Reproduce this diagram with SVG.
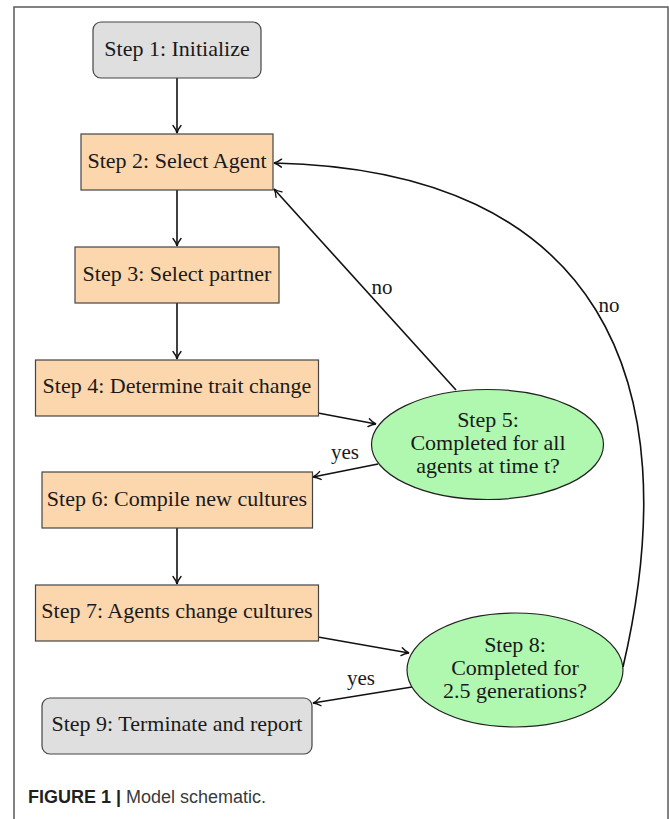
<svg xmlns="http://www.w3.org/2000/svg" width="669" height="819" viewBox="0 0 669 819">
  <style>
    .lbl { font-family: "Liberation Serif", "Times New Roman", serif; font-size: 22px; fill: #1a1a1a; text-anchor: middle; }
    .edge-lbl { font-family: "Liberation Serif", "Times New Roman", serif; font-size: 21px; fill: #1a1a1a; text-anchor: middle; }
    .gray { fill: #dfdfdf; stroke: #444; stroke-width: 1.2; }
    .orange { fill: #fcd7ad; stroke: #444; stroke-width: 1.2; }
    .green { fill: #b0f7b0; stroke: #222; stroke-width: 1.2; }
    .conn { fill: none; stroke: #111; stroke-width: 1.6; marker-end: url(#arr); }
    .cap { font-family: "Liberation Sans", Arial, sans-serif; font-size: 18px; fill: #3a3a3a; }
  </style>
  <defs>
    <marker id="arr" markerUnits="userSpaceOnUse" markerWidth="14" markerHeight="14" viewBox="-11 -7 14 14" refX="0" refY="0" orient="auto" overflow="visible">
      <path d="M -7.5,-4 C -4.5,-1.6 -1.8,-0.4 0,0 C -1.8,0.4 -4.5,1.6 -7.5,4" fill="none" stroke="#111" stroke-width="1.4" stroke-linecap="round"/>
    </marker>
  </defs>
  <rect x="0" y="0" width="669" height="819" fill="#ffffff"/>
  <rect x="14" y="7" width="654" height="840" fill="none" stroke="#5a5a5a" stroke-width="1.5"/>

  <g id="connectors">
    <line class="conn" x1="177" y1="78" x2="177" y2="133"/>
    <line class="conn" x1="177" y1="190" x2="177" y2="246"/>
    <line class="conn" x1="177" y1="303" x2="177" y2="359"/>
    <line class="conn" x1="318" y1="413" x2="376" y2="424"/>
    <line class="conn" x1="378" y1="464" x2="313" y2="477"/>
    <line class="conn" x1="456" y1="390" x2="274" y2="189"/>
    <line class="conn" x1="177" y1="528" x2="177" y2="584"/>
    <line class="conn" x1="318" y1="637" x2="409" y2="653"/>
    <line class="conn" x1="412" y1="687" x2="313" y2="703"/>
    <path class="conn" d="M 623,667 C 690,380 600,170 274,163"/>
    <text class="edge-lbl" x="382" y="294">no</text>
    <text class="edge-lbl" x="609" y="312">no</text>
    <text class="edge-lbl" x="345" y="459">yes</text>
    <text class="edge-lbl" x="361" y="685">yes</text>
  </g>

  <g id="step1">
    <rect class="gray" x="93" y="22" width="168" height="56" rx="8" ry="8"/>
    <text class="lbl" x="177" y="56">Step 1: Initialize</text>
  </g>
  <g id="step2">
    <rect class="orange" x="81" y="134" width="192" height="56"/>
    <text class="lbl" x="177" y="168">Step 2: Select Agent</text>
  </g>
  <g id="step3">
    <rect class="orange" x="75" y="247" width="204" height="56"/>
    <text class="lbl" x="177" y="281">Step 3: Select partner</text>
  </g>
  <g id="step4">
    <rect class="orange" x="35.5" y="360" width="283" height="56"/>
    <text class="lbl" x="177" y="393">Step 4: Determine trait change</text>
  </g>
  <g id="step5">
    <ellipse class="green" cx="487.5" cy="444.5" rx="116" ry="55"/>
    <text class="lbl" x="488" y="427">Step 5:</text>
    <text class="lbl" x="488" y="450">Completed for all</text>
    <text class="lbl" x="488" y="473">agents at time t?</text>
  </g>
  <g id="step6">
    <rect class="orange" x="42" y="472" width="270.5" height="56"/>
    <text class="lbl" x="177" y="506">Step 6: Compile new cultures</text>
  </g>
  <g id="step7">
    <rect class="orange" x="35.5" y="585" width="283" height="56"/>
    <text class="lbl" x="177" y="618">Step 7: Agents change cultures</text>
  </g>
  <g id="step8">
    <ellipse class="green" cx="515" cy="670" rx="108" ry="57"/>
    <text class="lbl" x="515" y="652">Step 8:</text>
    <text class="lbl" x="515" y="675">Completed for</text>
    <text class="lbl" x="515" y="698">2.5 generations?</text>
  </g>
  <g id="step9">
    <rect class="gray" x="42" y="698" width="270" height="56" rx="8" ry="8"/>
    <text class="lbl" x="177" y="731">Step 9: Terminate and report</text>
  </g>

  <text class="cap" x="28" y="803"><tspan font-weight="bold" fill="#231f20">FIGURE 1 | </tspan>Model schematic.</text>
</svg>
